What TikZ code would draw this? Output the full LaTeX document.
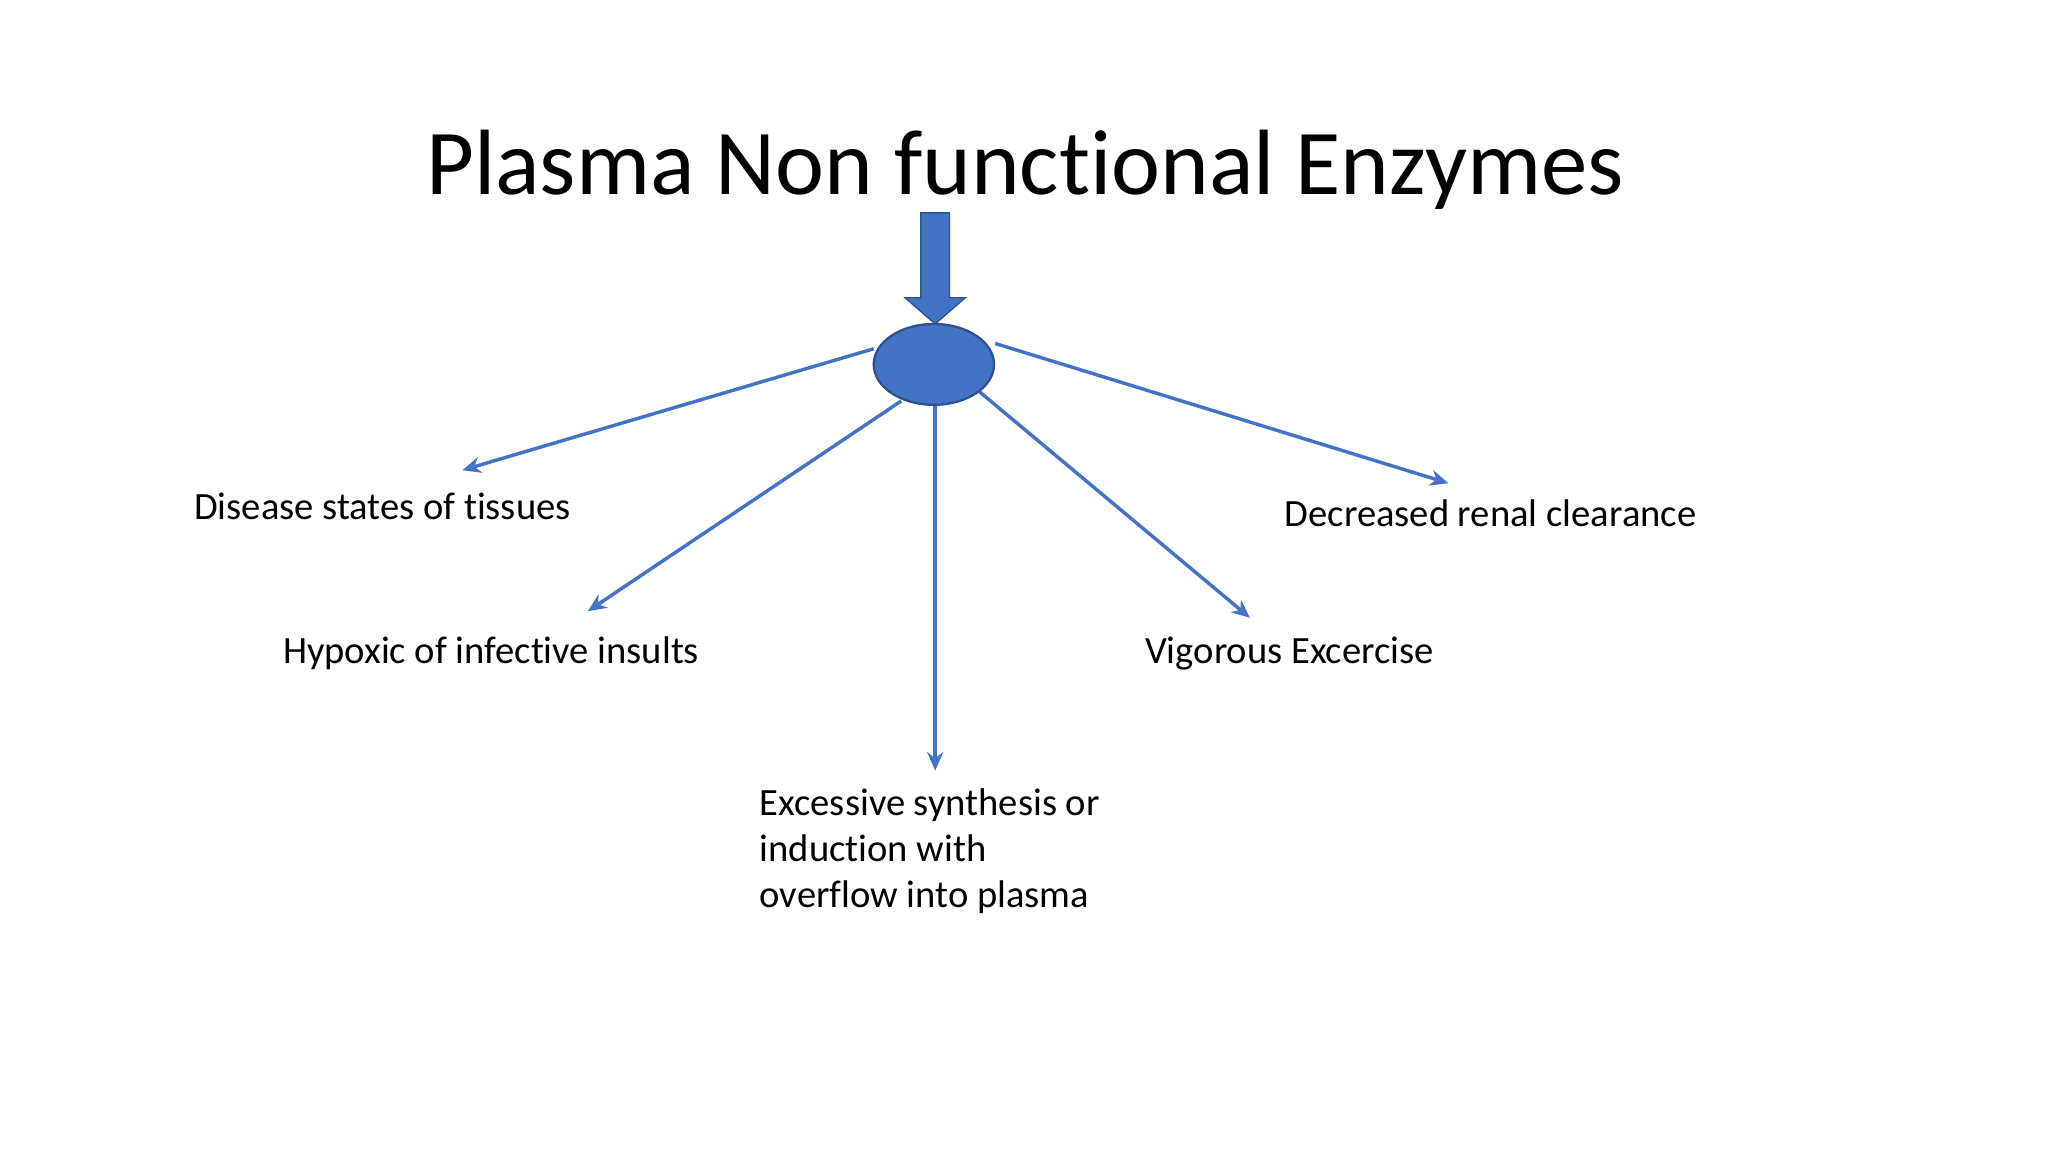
\documentclass[tikz,border=0pt]{standalone}
\usepackage{fontspec}
\setmainfont{Carlito}[Ligatures={NoCommon}]
\usetikzlibrary{arrows.meta,shapes.geometric}
\definecolor{blu}{HTML}{4472C4}
\definecolor{dblu}{HTML}{2F528F}
\begin{document}
\begin{tikzpicture}[x=0.01cm,y=-0.01cm,
  conn/.style={draw=blu,line width=0.75pt,-{Stealth[length=4pt,width=3.5pt]}},
  lab/.style={anchor=west,inner sep=0pt,font=\fontsize{8.4}{10}\selectfont,align=left}]
\useasboundingbox (0,0) rectangle (1568,882);
\node[font=\fontsize{20.2}{24}\selectfont] (title) at (785,130) {Plasma Non functional Enzymes};
\coordinate (a1) at (354,360);
\coordinate (a2) at (450,468);
\coordinate (a3) at (716,590);
\coordinate (a4) at (957,473);
\coordinate (a5) at (1109,370);
\draw[conn] (669,267) -- (a1);
\draw[conn] (690,307) -- (a2);
\draw[conn] (716,311) -- (a3);
\draw[conn] (750,300) -- (a4);
\draw[conn] (762,263) -- (a5);
\node[ellipse,draw=dblu,line width=0.5pt,fill=blu,minimum width=26.2pt,minimum height=17.6pt,inner sep=0pt] (hub) at (715,279) {};
\fill[blu,draw=dblu,line width=0.3pt] (705,163) -- (727,163) -- (727,228) -- (739,228) -- (716,248) -- (693,228) -- (705,228) -- cycle;
\node[lab] (l1) at (148,388) {Disease states of tissues};
\node[lab] (l2) at (216,500) {Hypoxic of infective insults};
\node[lab,anchor=north west] (l3) at (581,603) {Excessive synthesis or\\induction with\\overflow into plasma};
\node[lab] (l4) at (876,500) {Vigorous Excercise};
\node[lab] (l5) at (983,393) {Decreased renal clearance};
\end{tikzpicture}
\end{document}
